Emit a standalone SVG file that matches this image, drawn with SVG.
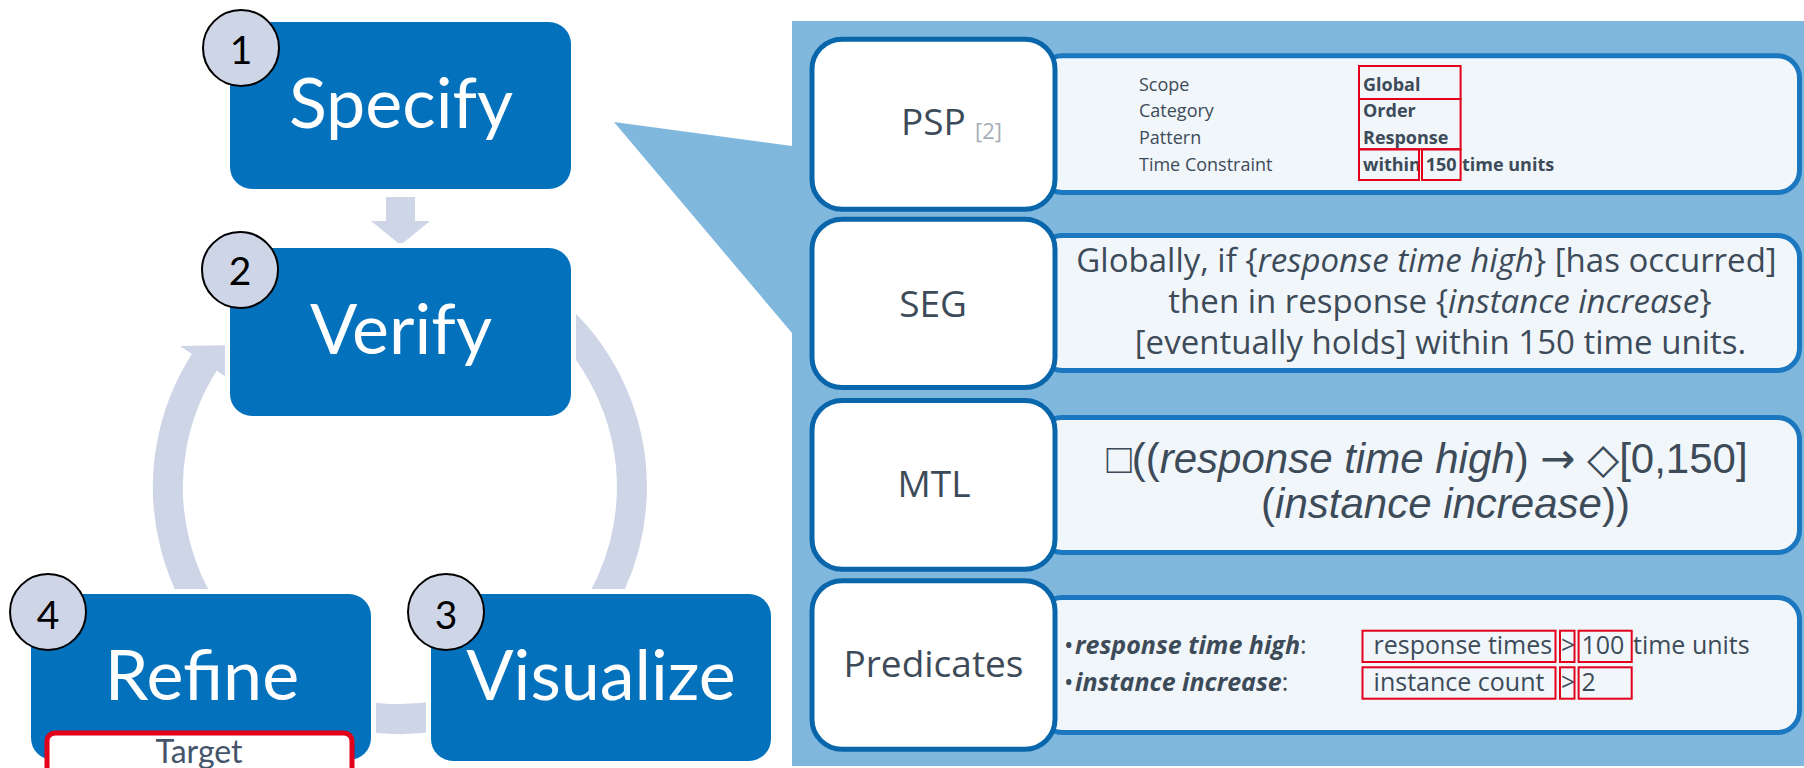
<svg xmlns="http://www.w3.org/2000/svg" width="1804" height="768" viewBox="0 0 1804 768">
<defs>
<style>
.box{fill:#0471BC;stroke:#fff;stroke-width:10;paint-order:stroke;}
.big{font-family:Lato,"Liberation Sans",sans-serif;font-size:70px;fill:#fff;text-anchor:middle;}
.num{fill:#CDD5E7;stroke:#000;stroke-width:2;}
.numt{font-family:Lato,"Liberation Sans",sans-serif;font-size:39px;fill:#000;text-anchor:middle;}
.ring{fill:#CDD5E7;}
.lbox{fill:#fff;stroke:#0A66AB;stroke-width:5;}
.rbox{fill:#F1F6FB;stroke:#1B77BF;stroke-width:5;}
.lab{font-family:"Open Sans",sans-serif;font-size:37px;fill:#3D4B59;text-anchor:middle;}
.tbl{font-family:"Open Sans",sans-serif;font-size:18px;fill:#3D4B59;}
.tb{font-weight:bold;}
.red{fill:none;stroke:#E2001A;stroke-width:2;}
.seg{font-family:"Open Sans",sans-serif;font-size:33px;fill:#3D4B59;text-anchor:middle;}
.mtl{font-family:"Liberation Sans",Arial,sans-serif;font-size:42px;fill:#3D4B59;text-anchor:middle;}
.pred{font-family:"Open Sans",sans-serif;font-size:25px;fill:#3D4B59;}
.it{font-style:italic;}
</style>
</defs>
<rect width="1804" height="768" fill="#fff"/>

<!-- right panel background and callout -->
<g id="panel">
<rect x="792" y="21" width="1012" height="745" fill="#80B7DD"/>
<polygon points="614,122 792,146 792,333" fill="#80B7DD"/>
</g>

<!-- connectors -->
<g id="connectors">
<path d="M479,269 A232,232 0 1 1 204.5,362" fill="none" stroke="#CDD5E7" stroke-width="30"/>
<polygon class="ring" points="180,346 238,345 229,379"/>
<polygon class="ring" points="386,197 415,197 415,221 430,221 400.5,245 371,221 386,221"/>
</g>

<g id="step-specify">
<rect class="box" x="230" y="22" width="341" height="167" rx="22"/>
<text class="big" x="401" y="128">Specify</text>
<circle class="num" cx="241" cy="48" r="38"/>
<text class="numt" x="241" y="64">1</text>
</g>

<g id="step-verify">
<rect class="box" x="230" y="248" width="341" height="168" rx="22"/>
<text class="big" x="401" y="354">Verify</text>
<circle class="num" cx="240" cy="270" r="38"/>
<text class="numt" x="240" y="285">2</text>
</g>

<g id="step-refine">
<rect class="box" x="31" y="594" width="340" height="166" rx="22"/>
<text class="big" x="202" y="700">Refine</text>
<circle class="num" cx="48" cy="612" r="38"/>
<text class="numt" x="48" y="629">4</text>
</g>

<g id="target">
<rect x="47" y="733" width="305" height="60" rx="8" fill="#fff" stroke="#E2001A" stroke-width="5"/>
<text x="199" y="763" font-family="Lato,'Liberation Sans',sans-serif" font-size="32" fill="#44546A" text-anchor="middle">Target</text>
</g>

<g id="step-visualize">
<rect class="box" x="431" y="594" width="340" height="167" rx="22"/>
<text class="big" x="601" y="700">Visualize</text>
<circle class="num" cx="446" cy="612" r="38"/>
<text class="numt" x="446" y="629">3</text>
</g>

<g id="row-psp">
<rect class="rbox" x="1040" y="55.8" width="759.5" height="136.7" rx="22"/>
<rect class="lbox" x="812" y="39.2" width="243" height="170" rx="30"/>
<text class="lab" x="901" y="135" style="text-anchor:start">PSP</text>
<text x="975" y="139" font-family="'Open Sans',sans-serif" font-size="22" fill="#A6AEB6">[2]</text>
<text class="tbl" x="1139" y="90.7">Scope</text>
<text class="tbl" x="1139" y="117.4">Category</text>
<text class="tbl" x="1139" y="144.1">Pattern</text>
<text class="tbl" x="1139" y="170.8">Time Constraint</text>
<text class="tbl tb" x="1363" y="90.7">Global</text>
<text class="tbl tb" x="1363" y="117.4">Order</text>
<text class="tbl tb" x="1363" y="144.1">Response</text>
<text class="tbl tb" x="1363" y="170.8">within</text>
<text class="tbl tb" x="1425.7" y="170.8">150</text>
<text class="tbl tb" x="1462" y="170.8">time units</text>
<rect class="red" x="1359" y="66" width="101.6" height="33"/>
<rect class="red" x="1359" y="99" width="101.6" height="50.3"/>
<rect class="red" x="1359" y="149.3" width="60" height="30.7"/>
<rect class="red" x="1422" y="149.3" width="38.6" height="30.7"/>
</g>

<g id="row-seg">
<rect class="rbox" x="1040" y="235.5" width="759.5" height="135" rx="22"/>
<rect class="lbox" x="812" y="219.2" width="243" height="168.3" rx="30"/>
<text class="lab" x="933" y="317">SEG</text>
<text class="seg" x="1426.5" y="272">Globally, if {<tspan class="it">response time high</tspan>} [has occurred]</text>
<text class="seg" x="1440" y="313">then in response {<tspan class="it">instance increase</tspan>}</text>
<text class="seg" x="1440.5" y="354">[eventually holds] within 150 time units.</text>
</g>

<g id="row-mtl">
<rect class="rbox" x="1040" y="417.5" width="759.5" height="135" rx="22"/>
<rect class="lbox" x="812" y="400.5" width="243" height="168.7" rx="30"/>
<text class="lab" x="934" y="497">MTL</text>
<text class="mtl" x="1427" y="473">□((<tspan class="it">response time high</tspan>) <tspan font-family="'DejaVu Sans',sans-serif">→</tspan> ◇[0,150]</text>
<text class="mtl" x="1445.5" y="518">(<tspan class="it">instance increase</tspan>))</text>
</g>

<g id="row-predicates">
<rect class="rbox" x="1040" y="597.5" width="759.5" height="135" rx="22"/>
<rect class="lbox" x="812" y="580.8" width="243" height="168.4" rx="30"/>
<text class="lab" x="933.5" y="677">Predicates</text>
<text class="pred" x="1064" y="654.3">•</text>
<text class="pred" x="1075" y="654.3"><tspan font-weight="bold" font-style="italic">response time high</tspan>:</text>
<text class="pred" x="1064" y="690.7">•</text>
<text class="pred" x="1075" y="690.7"><tspan font-weight="bold" font-style="italic">instance increase</tspan>:</text>
<text class="pred" x="1373.6" y="654.3">response times</text>
<text class="pred" x="1561" y="654.3">&gt;</text>
<text class="pred" x="1581.5" y="654.3">100</text>
<text class="pred" x="1633" y="654.3">time units</text>
<text class="pred" x="1373.6" y="690.7">instance count</text>
<text class="pred" x="1561" y="690.7">&gt;</text>
<text class="pred" x="1581.5" y="690.7">2</text>
<rect class="red" x="1362.5" y="630.7" width="193" height="31.3"/>
<rect class="red" x="1560" y="630.7" width="14.5" height="31.3"/>
<rect class="red" x="1578.6" y="630.7" width="53.1" height="31.3"/>
<rect class="red" x="1362.5" y="667.3" width="193" height="31.4"/>
<rect class="red" x="1560" y="667.3" width="14.5" height="31.4"/>
<rect class="red" x="1578.6" y="667.3" width="53.1" height="31.4"/>
</g>
</svg>
